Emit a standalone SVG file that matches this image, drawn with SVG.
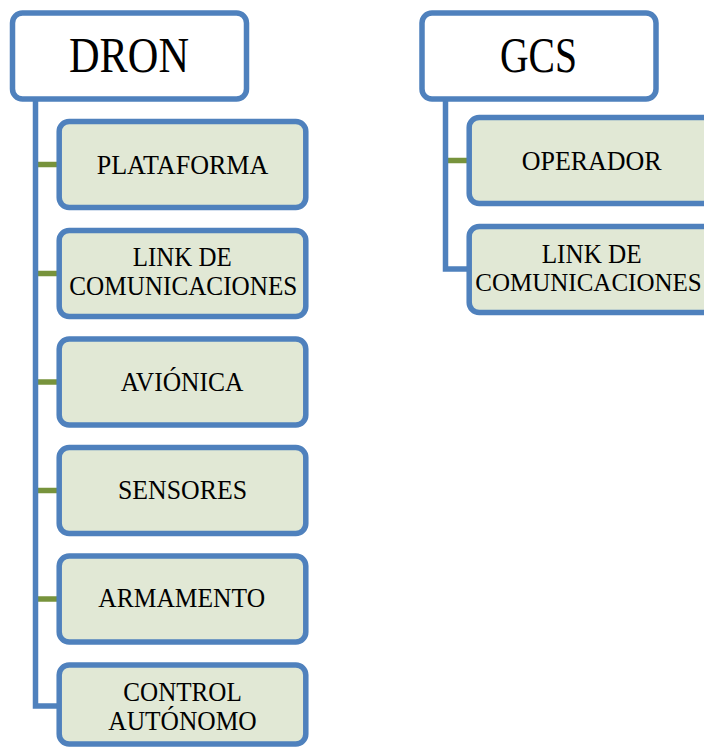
<svg xmlns="http://www.w3.org/2000/svg" width="704" height="747" viewBox="0 0 704 747">
<style>
.root{fill:#FFFFFF;stroke:#4F81BD;stroke-width:5.5}
.child{fill:#E1E8D5;stroke:#4F81BD;stroke-width:5.5}
.trunk{fill:none;stroke:#4F81BD;stroke-width:5.5;stroke-linejoin:miter}
.branch{stroke:#77933C;stroke-width:5.5}
text{font-family:"Liberation Serif","DejaVu Serif",serif;fill:#000000;text-anchor:middle}
.big{font-size:50px}
.small{font-size:27px}
</style>
<rect width="704" height="747" fill="#FFFFFF"/>
<g id="connectors">
<line class="branch" x1="36" y1="164.5" x2="58" y2="164.5"/>
<line class="branch" x1="36" y1="273.5" x2="58" y2="273.5"/>
<line class="branch" x1="36" y1="382" x2="58" y2="382"/>
<line class="branch" x1="36" y1="490.5" x2="58" y2="490.5"/>
<line class="branch" x1="36" y1="599" x2="58" y2="599"/>
<polyline class="trunk" points="35.5,99 35.5,706 59,706"/>
<line class="branch" x1="446" y1="160.5" x2="468" y2="160.5"/>
<polyline class="trunk" points="445.5,98.5 445.5,269 469,269"/>
</g>
<g id="dron">
<rect class="root" x="12.5" y="13" width="234" height="86" rx="10"/>
<text class="big" x="129" y="72" textLength="120" lengthAdjust="spacingAndGlyphs">DRON</text>
</g>
<g id="gcs">
<rect class="root" x="422" y="13" width="234" height="86" rx="10"/>
<text class="big" x="538.5" y="71.7" textLength="77" lengthAdjust="spacingAndGlyphs">GCS</text>
</g>
<g id="plataforma">
<rect class="child" x="59.2" y="121.5" width="246.6" height="86" rx="10"/>
<text class="small" x="182.5" y="174" textLength="171.6" lengthAdjust="spacingAndGlyphs">PLATAFORMA</text>
</g>
<g id="link-dron">
<rect class="child" x="59.2" y="230.5" width="246.6" height="86" rx="10"/>
<text class="small" x="182.2" y="266" textLength="99" lengthAdjust="spacingAndGlyphs">LINK DE</text>
<text class="small" x="183.3" y="295" textLength="228" lengthAdjust="spacingAndGlyphs">COMUNICACIONES</text>
</g>
<g id="avionica">
<rect class="child" x="59.2" y="339" width="246.6" height="86" rx="10"/>
<text class="small" x="182" y="390.7" textLength="122.6" lengthAdjust="spacingAndGlyphs">AVIÓNICA</text>
</g>
<g id="sensores">
<rect class="child" x="59.2" y="447.5" width="246.6" height="86" rx="10"/>
<text class="small" x="182.5" y="499.2" textLength="129" lengthAdjust="spacingAndGlyphs">SENSORES</text>
</g>
<g id="armamento">
<rect class="child" x="59.2" y="556" width="246.6" height="86" rx="10"/>
<text class="small" x="181.7" y="607.3" textLength="166.7" lengthAdjust="spacingAndGlyphs">ARMAMENTO</text>
</g>
<g id="control">
<rect class="child" x="59.2" y="665" width="246.6" height="79" rx="10"/>
<text class="small" x="182.5" y="701" textLength="118.4" lengthAdjust="spacingAndGlyphs">CONTROL</text>
<text class="small" x="182.5" y="730" textLength="148.4" lengthAdjust="spacingAndGlyphs">AUTÓNOMO</text>
</g>
<g id="operador">
<rect class="child" x="469.2" y="117.5" width="246.6" height="86" rx="10"/>
<text class="small" x="591.7" y="170" textLength="140" lengthAdjust="spacingAndGlyphs">OPERADOR</text>
</g>
<g id="link-gcs">
<rect class="child" x="469.2" y="226.5" width="246.6" height="86" rx="10"/>
<text class="small" x="591.7" y="263.3" textLength="100" lengthAdjust="spacingAndGlyphs">LINK DE</text>
<text x="588.5" y="291" style="font-size:25px">COMUNICACIONES</text>
</g>
</svg>
